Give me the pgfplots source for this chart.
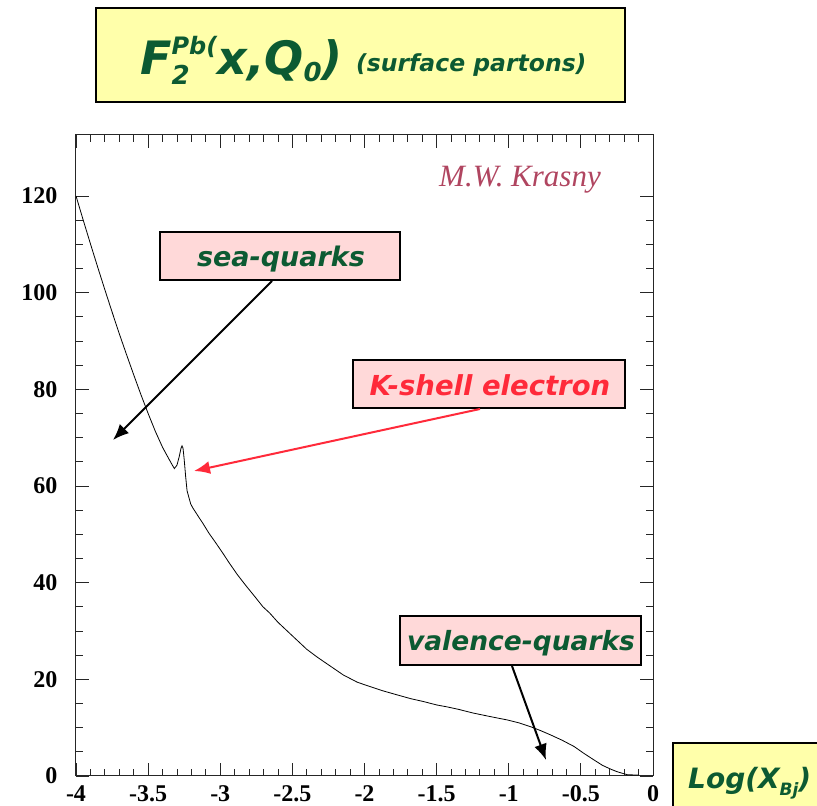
\documentclass[border=0pt]{standalone}
\usepackage{pgfplots}
\pgfplotsset{compat=1.18}
\usetikzlibrary{arrows.meta}
\usepackage{fontspec}
\setmainfont{Liberation Serif}
\newfontfamily\comic{DejaVu Sans}
\definecolor{txtgreen}{RGB}{12,90,50}
\definecolor{txtred}{RGB}{255,42,58}
\definecolor{boxpink}{RGB}{255,217,217}
\definecolor{boxyellow}{RGB}{255,255,170}
\definecolor{krasny}{RGB}{176,69,96}
\newcommand{\tfont}{\fontsize{24}{24}\selectfont\bfseries}
\begin{document}
\begin{tikzpicture}
\path[use as bounding box] (-76pt,-30pt) rectangle (741pt,776pt);
\begin{axis}[
  at={(0,0)}, anchor=south west,
  scale only axis, width=577pt, height=641pt,
  xmin=-4, xmax=0, ymin=0, ymax=132.6,
  xtick={-4,-3.5,-3,-2.5,-2,-1.5,-1,-0.5,0},
  xticklabels={-4,-3.5,-3,-2.5,-2,-1.5,-1,-0.5,0},
  ytick={0,20,40,60,80,100,120},
  yticklabels={0,20,40,60,80,100,120},
  minor x tick num=4, minor y tick num=3,
  tick align=inside,
  major tick length=13pt, minor tick length=7pt,
  tick style={black!85, line width=0.8pt},
  axis line style={black!85, line width=1pt},
  xticklabel style={font=\tfont, yshift=-6pt},
  yticklabel style={font=\tfont, xshift=-15pt},
]
\addplot[black, line width=0.8pt] coordinates {
(-4.000,120.0) (-3.950,115.0) (-3.900,110.1) (-3.850,105.3) (-3.800,100.6)
(-3.750,96.0) (-3.700,91.5) (-3.650,87.2) (-3.600,83.0) (-3.550,78.9)
(-3.500,75.0) (-3.450,71.3) (-3.400,68.0) (-3.360,65.8) (-3.330,64.2)
(-3.318,63.6) (-3.300,64.3) (-3.285,66.0) (-3.272,67.8) (-3.265,68.3)
(-3.258,67.8) (-3.250,65.5) (-3.240,62.0) (-3.230,59.0) (-3.219,57.8)
(-3.205,56.3) (-3.191,55.5) (-3.150,53.6) (-3.121,52.3) (-3.080,50.3)
(-3.028,48.1) (-2.980,46.0) (-2.936,44.0) (-2.880,41.6) (-2.820,39.3)
(-2.760,37.1) (-2.704,35.0) (-2.657,33.7) (-2.600,31.8) (-2.518,29.5)
(-2.450,27.6) (-2.400,26.2) (-2.333,24.7) (-2.250,23.0) (-2.147,20.9)
(-2.050,19.4) (-1.962,18.5) (-1.870,17.6) (-1.776,16.8) (-1.680,16.0)
(-1.591,15.4) (-1.500,14.7) (-1.428,14.3) (-1.350,13.8) (-1.243,13.0)
(-1.130,12.3) (-1.011,11.6) (-0.930,11.0) (-0.849,10.2) (-0.780,9.4)
(-0.710,8.5) (-0.630,7.4) (-0.547,6.1) (-0.480,4.7) (-0.408,3.3)
(-0.350,2.2) (-0.292,1.4) (-0.250,0.9) (-0.211,0.55) (-0.176,0.25)
(-0.100,0.2)
};
\end{axis}
\begin{scope}[x=1pt,y=-1pt,shift={(-76pt,776pt)}]
  % title box
  \draw[line width=2pt, fill=boxyellow] (96,8) rectangle (625,102);
  \node[anchor=base west, inner sep=0, text=txtgreen] at (140,75)
    {\comic\bfseries\itshape\fontsize{46}{46}\selectfont F\rlap{\raisebox{-10pt}{\fontsize{26}{26}\selectfont 2}}\raisebox{20pt}{\fontsize{24}{24}\selectfont Pb(}x,Q\raisebox{-7pt}{\fontsize{26}{26}\selectfont 0})};
  \node[anchor=base west, inner sep=0, text=txtgreen] at (356,72)
    {\comic\bfseries\itshape\fontsize{23.5}{23.5}\selectfont (surface partons)};
  % author
  \node[anchor=base, inner sep=0, text=krasny] at (520,187)
    {\fontsize{31}{31}\selectfont\itshape M.W. Krasny};
  % sea-quarks
  \draw[line width=2pt, fill=boxpink] (160,232) rectangle (400,280);
  \node[anchor=base, inner sep=0, text=txtgreen] at (281,267)
    {\comic\bfseries\itshape\fontsize{27}{27}\selectfont sea-quarks};
  \draw[line width=2pt, -{Latex[length=16pt,width=13pt]}] (272,281) -- (113,440);
  % K-shell
  \draw[line width=2pt, fill=boxpink] (353,360) rectangle (625,408);
  \node[anchor=base, inner sep=0, text=txtred] at (490,396)
    {\comic\bfseries\itshape\fontsize{27.5}{27.5}\selectfont K-shell electron};
  \draw[txtred, line width=2pt, -{Latex[length=16pt,width=13pt]}] (480,409) -- (194,471);
  % valence
  \draw[line width=2pt, fill=boxpink] (400,616) rectangle (641,665);
  \node[anchor=base, inner sep=0, text=txtgreen] at (521,651)
    {\comic\bfseries\itshape\fontsize{26.5}{26.5}\selectfont valence-quarks};
  \draw[line width=2pt, -{Latex[length=16pt,width=13pt]}] (512,666) -- (546,760);
  % x-axis label box
  \draw[line width=2pt, fill=boxyellow] (673,743) rectangle (840,840);
  \node[anchor=base west, inner sep=0, text=txtgreen] at (688,789)
    {\comic\bfseries\itshape\fontsize{28}{28}\selectfont Log(X\raisebox{-7pt}{\fontsize{17}{17}\selectfont Bj})};
\end{scope}
\end{tikzpicture}
\end{document}
